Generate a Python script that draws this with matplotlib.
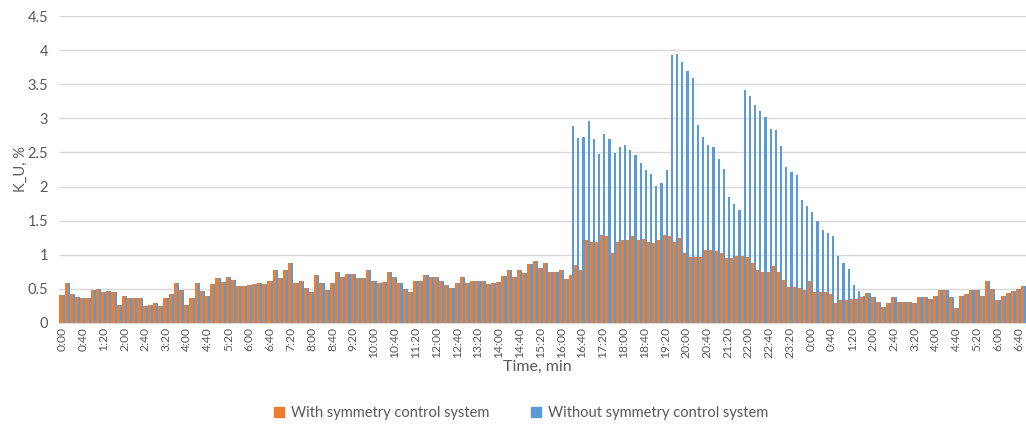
import numpy as np
import matplotlib
matplotlib.use("Agg")
import matplotlib.pyplot as plt
from matplotlib.patches import Patch

# K_U per 10 s interval, two runs
k_with = [0.41, 0.58, 0.42, 0.38, 0.36, 0.36, 0.49, 0.50, 0.46, 0.47,
          0.46, 0.26, 0.39, 0.37, 0.36, 0.37, 0.25, 0.26, 0.30, 0.25,
          0.36, 0.43, 0.58, 0.49, 0.26, 0.37, 0.58, 0.47, 0.39, 0.57,
          0.66, 0.60, 0.68, 0.63, 0.54, 0.54, 0.56, 0.57, 0.58, 0.57,
          0.62, 0.77, 0.66, 0.77, 0.88, 0.59, 0.62, 0.51, 0.45, 0.70,
          0.59, 0.49, 0.58, 0.75, 0.67, 0.72, 0.72, 0.66, 0.66, 0.78,
          0.61, 0.58, 0.60, 0.75, 0.67, 0.58, 0.50, 0.46, 0.62, 0.62,
          0.70, 0.67, 0.67, 0.62, 0.56, 0.52, 0.58, 0.67, 0.59, 0.62,
          0.62, 0.62, 0.57, 0.59, 0.60, 0.69, 0.78, 0.68, 0.78, 0.73,
          0.87, 0.91, 0.80, 0.88, 0.75, 0.75, 0.77, 0.64, 0.70, 0.85,
          0.78, 1.22, 1.19, 1.18, 1.29, 1.27, 1.02, 1.19, 1.22, 1.22,
          1.28, 1.22, 1.23, 1.19, 1.17, 1.21, 1.29, 1.27, 1.19, 1.24,
          1.02, 0.97, 0.97, 0.97, 1.07, 1.07, 1.06, 1.02, 0.95, 0.95,
          0.98, 0.98, 0.97, 0.88, 0.78, 0.75, 0.75, 0.84, 0.75, 0.63,
          0.53, 0.53, 0.51, 0.49, 0.62, 0.46, 0.46, 0.45, 0.43, 0.30,
          0.34, 0.34, 0.35, 0.35, 0.38, 0.44, 0.38, 0.31, 0.23, 0.30,
          0.38, 0.31, 0.31, 0.31, 0.30, 0.38, 0.38, 0.35, 0.39, 0.48,
          0.48, 0.38, 0.22, 0.39, 0.42, 0.48, 0.48, 0.39, 0.61, 0.50,
          0.33, 0.40, 0.44, 0.47, 0.50, 0.54]

k_without = [0.41, 0.58, 0.42, 0.38, 0.36, 0.36, 0.49, 0.50, 0.46, 0.47,
             0.46, 0.26, 0.39, 0.37, 0.36, 0.37, 0.25, 0.26, 0.30, 0.25,
             0.36, 0.43, 0.58, 0.49, 0.26, 0.37, 0.58, 0.47, 0.39, 0.57,
             0.66, 0.60, 0.68, 0.63, 0.54, 0.54, 0.56, 0.57, 0.58, 0.57,
             0.62, 0.77, 0.66, 0.77, 0.88, 0.59, 0.62, 0.51, 0.45, 0.70,
             0.59, 0.49, 0.58, 0.75, 0.67, 0.72, 0.72, 0.66, 0.66, 0.78,
             0.61, 0.58, 0.60, 0.75, 0.67, 0.58, 0.50, 0.46, 0.62, 0.62,
             0.70, 0.67, 0.67, 0.62, 0.56, 0.52, 0.58, 0.67, 0.59, 0.62,
             0.62, 0.62, 0.57, 0.59, 0.60, 0.69, 0.78, 0.68, 0.78, 0.73,
             0.87, 0.91, 0.80, 0.88, 0.75, 0.75, 0.77, 0.64, 2.89, 2.71,
             2.73, 2.96, 2.70, 2.47, 2.77, 2.70, 2.49, 2.58, 2.61, 2.54,
             2.46, 2.34, 2.24, 2.18, 2.01, 2.05, 2.24, 3.93, 3.94, 3.82,
             3.69, 3.59, 2.90, 2.72, 2.61, 2.58, 2.40, 2.26, 1.85, 1.75,
             1.65, 3.41, 3.33, 3.20, 3.11, 3.02, 2.84, 2.83, 2.60, 2.29,
             2.21, 2.17, 1.81, 1.72, 1.62, 1.49, 1.37, 1.32, 1.28, 0.98,
             0.88, 0.79, 0.56, 0.47, 0.39, 0.44, 0.38, 0.31, 0.23, 0.30,
             0.38, 0.31, 0.31, 0.31, 0.30, 0.38, 0.38, 0.35, 0.39, 0.48,
             0.48, 0.38, 0.22, 0.39, 0.42, 0.48, 0.48, 0.39, 0.61, 0.50,
             0.33, 0.40, 0.44, 0.47, 0.50, 0.54]

time_labels = ["0:00", "0:40", "1:20", "2:00", "2:40", "3:20", "4:00", "4:40",
               "5:20", "6:00", "6:40", "7:20", "8:00", "8:40", "9:20", "10:00",
               "10:40", "11:20", "12:00", "12:40", "13:20", "14:00", "14:40",
               "15:20", "16:00", "16:40", "17:20", "18:00", "18:40", "19:20",
               "20:00", "20:40", "21:20", "22:00", "22:40", "23:20", "0:00",
               "0:40", "1:20", "2:00", "2:40", "3:20", "4:00", "4:40", "5:20",
               "6:00", "6:40"]
label_step = 4

c_with = "#ED7D31"
c_without = "#5B9BD5"
txt = "#595959"
grid = "#D9D9D9"

plt.rcParams["font.family"] = ["Lato", "DejaVu Sans"]

fig = plt.figure(figsize=(10.26, 4.26), dpi=100)
ax = fig.add_axes([59.4 / 1026, 1 - 323 / 426, 1 - 59.4 / 1026, (323 - 16) / 426])

x = np.arange(len(k_with))
ax.bar(x - 0.2, k_with, width=0.6, color=c_with, linewidth=0)
ax.bar(x + 0.3, k_without, width=0.4, color=c_without, linewidth=0)

ax.set_xlim(-0.5, 185.4)
ax.set_ylim(0, 4.5)
ax.set_yticks(np.arange(0, 4.51, 0.5))
ax.set_yticklabels(["0", "0.5", "1", "1.5", "2", "2.5", "3", "3.5", "4", "4.5"])
ax.set_xticks(np.arange(0, len(time_labels) * label_step, label_step))
ax.set_xticklabels(time_labels, rotation=90)
ax.tick_params(axis="both", length=0, colors=txt)
ax.tick_params(axis="y", pad=8, labelsize=10.5)
ax.tick_params(axis="x", pad=3, labelsize=8.7)

ax.yaxis.grid(True, color=grid, linewidth=1)
ax.set_axisbelow(True)
for side in ["top", "right", "left"]:
    ax.spines[side].set_visible(False)
ax.spines["bottom"].set_color(grid)

ax.set_xlabel("Time, min", color=txt, fontsize=11.5)
ax.xaxis.set_label_coords(0.494, -0.143)
ax.xaxis.label.set_va("center")
ax.set_ylabel("K_U, %", color=txt, fontsize=10.5, labelpad=0)

handles = [Patch(color=c_with, label="With symmetry control system"),
           Patch(color=c_without, label="Without symmetry control system")]
fig.legend(handles=handles, loc="center", bbox_to_anchor=(0.508, 0.03), ncol=2,
           frameon=False, fontsize=10.5, handlelength=0.7, handleheight=0.7,
           handletextpad=0.5, columnspacing=2.8, labelcolor=txt)

fig.savefig("out.png", dpi=100)
